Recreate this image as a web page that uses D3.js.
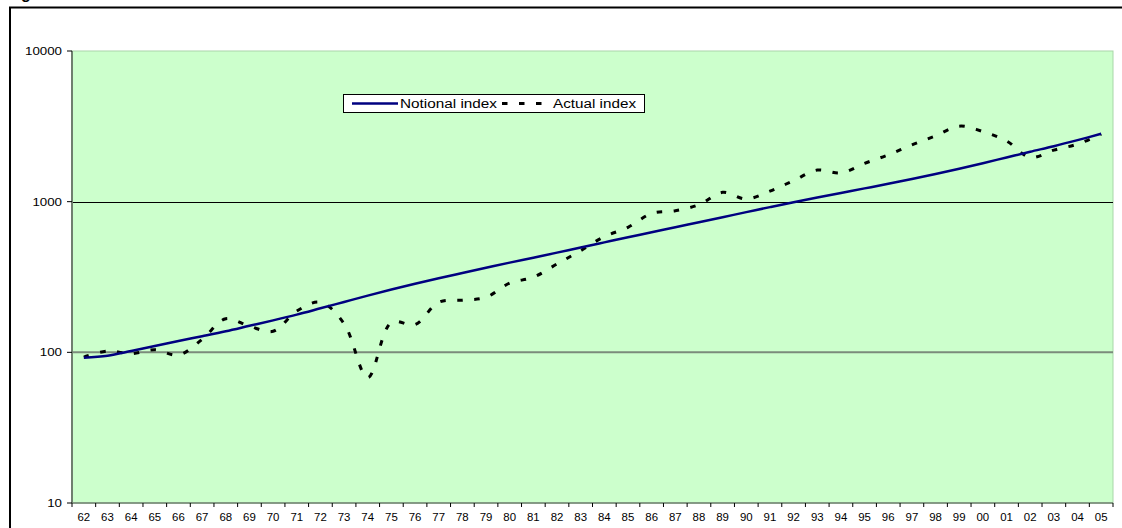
<!DOCTYPE html>
<html>
<head>
<meta charset="utf-8">
<script src="https://cdn.jsdelivr.net/npm/d3@7"></script>
<style>
  html, body { margin: 0; padding: 0; background: #ffffff; }
  svg { display: block; font-family: Arial, "Liberation Sans", sans-serif; }
</style>
</head>
<body>
<svg id="chart" width="1122" height="528"></svg>
<script>
const years = ["62","63","64","65","66","67","68","69","70","71","72","73","74","75","76","77","78","79","80","81","82","83","84","85","86","87","88","89","90","91","92","93","94","95","96","97","98","99","00","01","02","03","04","05"];

const notionalIndex = [92,95,102,110,119,128,138,150,163,178,196,216,238,261,285,310,336,364,394,425,459,497,537,580,627,677,731,789,852,920,992,1066,1143,1225,1313,1412,1524,1653,1800,1965,2145,2335,2560,2820];

const actualIndex = [93,102,98,104,96,122,167,149,138,188,215,155,68,158,153,215,222,232,288,315,386,473,586,676,836,871,955,1153,1042,1175,1380,1620,1550,1795,2045,2385,2735,3170,2920,2530,1965,2200,2410,2805];

const yTicks = [10,100,1000,10000];
const yTickLabels = ["10","100","1000","10000"];
const seriesNames = ["Notional index","Actual index"];

const svg = d3.select("#chart");
const plot = {left: 72, right: 1113, top: 51, bottom: 503};

// outer chart border (extends beyond the visible window on right/bottom)
svg.append("rect")
  .attr("x", 10).attr("y", 7.5)
  .attr("width", 1130).attr("height", 540)
  .attr("fill", "#ffffff").attr("stroke", "#000").attr("stroke-width", 2);

// clipped title glyph at very top-left (cut off in the original too)
svg.append("text")
  .attr("x", 21).attr("y", -1)
  .attr("font-size", 16).attr("font-weight", "bold")
  .attr("fill", "#000")
  .text("g");

const x = d3.scaleBand().domain(years).range([plot.left, plot.right]).padding(0);
const y = d3.scaleLog().domain([10, 10000]).range([plot.bottom, plot.top]);

// plot background
svg.append("rect")
  .attr("x", plot.left).attr("y", plot.top)
  .attr("width", plot.right - plot.left).attr("height", plot.bottom - plot.top)
  .attr("fill", "#ccffcc").attr("stroke", "#a9d6a9").attr("stroke-width", 1);

// gridlines
svg.append("line")
  .attr("x1", plot.left).attr("x2", plot.right)
  .attr("y1", Math.round(y(1000)) + 0.5).attr("y2", Math.round(y(1000)) + 0.5)
  .attr("stroke", "#000").attr("stroke-width", 1);
svg.append("line")
  .attr("x1", plot.left).attr("x2", plot.right)
  .attr("y1", y(100)).attr("y2", y(100))
  .attr("stroke", "#7b8b7b").attr("stroke-width", 2);

// y axis
const yAxisG = svg.append("g").attr("transform", `translate(${plot.left},0)`);
yAxisG.append("line").attr("x1", 0).attr("x2", 0).attr("y1", plot.top).attr("y2", plot.bottom)
  .attr("stroke", "#6f7f6f").attr("stroke-width", 2);
yTicks.forEach((t, i) => {
  yAxisG.append("line").attr("x1", -5).attr("x2", 0).attr("y1", y(t)).attr("y2", y(t))
    .attr("stroke", "#000").attr("stroke-width", 1);
  const lbl = yTickLabels[i];
  yAxisG.append("text")
    .attr("x", -10).attr("y", y(t)).attr("dy", "0.36em")
    .attr("text-anchor", "end").attr("font-size", 11.5).attr("fill", "#000")
    .attr("textLength", lbl.length * 7.4).attr("lengthAdjust", "spacingAndGlyphs")
    .text(lbl);
});

// x axis
const xAxisG = svg.append("g");
xAxisG.append("line").attr("x1", plot.left).attr("x2", plot.right)
  .attr("y1", plot.bottom).attr("y2", plot.bottom)
  .attr("stroke", "#6f7f6f").attr("stroke-width", 1.5);
years.forEach((yr, i) => {
  const bx = x(yr);
  xAxisG.append("line").attr("x1", bx).attr("x2", bx).attr("y1", plot.bottom).attr("y2", plot.bottom + 4)
    .attr("stroke", "#000").attr("stroke-width", 1);
  xAxisG.append("text")
    .attr("x", bx + x.bandwidth() / 2).attr("y", 521)
    .attr("text-anchor", "middle").attr("font-size", 10).attr("fill", "#000")
    .attr("textLength", 12.7).attr("lengthAdjust", "spacingAndGlyphs")
    .text(yr);
});
xAxisG.append("line").attr("x1", plot.right).attr("x2", plot.right).attr("y1", plot.bottom).attr("y2", plot.bottom + 4)
  .attr("stroke", "#000").attr("stroke-width", 1);

const cx = d => x(d) + x.bandwidth() / 2;

const lineGen = d3.line()
  .x((d, i) => cx(years[i]))
  .y(d => y(d))
  .curve(d3.curveCatmullRom.alpha(0.5));

svg.append("path")
  .datum(actualIndex)
  .attr("d", lineGen)
  .attr("fill", "none").attr("stroke", "#000")
  .attr("stroke-width", 3).attr("stroke-dasharray", "5.5,11.5");

svg.append("path")
  .datum(notionalIndex)
  .attr("d", lineGen)
  .attr("fill", "none").attr("stroke", "#000080")
  .attr("stroke-width", 2.5);

// legend
const lg = svg.append("g");
lg.append("rect").attr("x", 343.5).attr("y", 94.5).attr("width", 301).attr("height", 18)
  .attr("fill", "#fff").attr("stroke", "#000").attr("stroke-width", 1);
lg.append("line").attr("x1", 352).attr("x2", 398).attr("y1", 103.5).attr("y2", 103.5)
  .attr("stroke", "#000080").attr("stroke-width", 2.5);
lg.append("text").attr("x", 400).attr("y", 108).attr("font-size", 12).attr("fill", "#000")
  .attr("textLength", 97).attr("lengthAdjust", "spacingAndGlyphs").text(seriesNames[0]);
lg.append("line").attr("x1", 502).attr("x2", 550).attr("y1", 103.5).attr("y2", 103.5)
  .attr("stroke", "#000").attr("stroke-width", 3).attr("stroke-dasharray", "5.5,11.5");
lg.append("text").attr("x", 553).attr("y", 108).attr("font-size", 12).attr("fill", "#000")
  .attr("textLength", 83).attr("lengthAdjust", "spacingAndGlyphs").text(seriesNames[1]);
</script>
</body>
</html>
